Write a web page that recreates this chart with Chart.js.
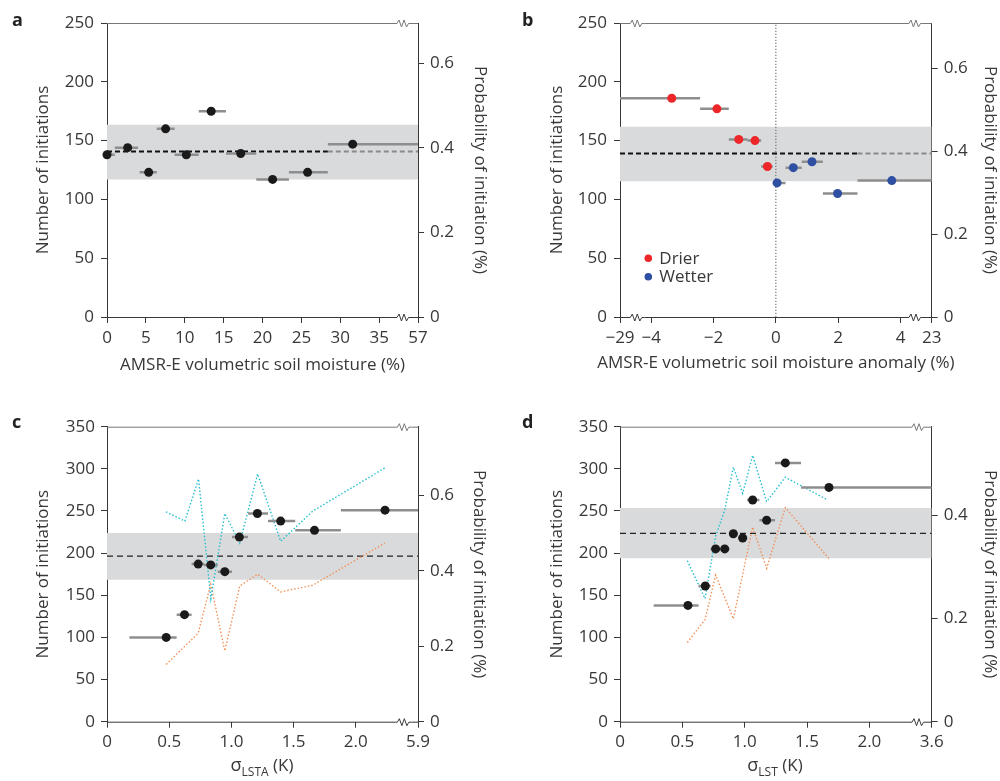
<!DOCTYPE html>
<html><head><meta charset="utf-8">
<script src="https://cdn.jsdelivr.net/npm/chart.js@4.4.0/dist/chart.umd.min.js"></script>
<style>
html,body{margin:0;padding:0;background:#fff;}
#wrap{position:relative;width:1000px;height:781px;overflow:hidden;background:#fff;}
canvas{position:absolute;}
</style></head><body>
<div id="wrap">
<canvas id="ca" width="500" height="390" style="left:0;top:0"></canvas>
<canvas id="cb" width="500" height="390" style="left:500px;top:0"></canvas>
<canvas id="cc" width="500" height="391" style="left:0;top:390px"></canvas>
<canvas id="cd" width="500" height="391" style="left:500px;top:390px"></canvas>
</div>
<script>
// ---------- Panel a : soil moisture ----------
const aX  = [0, 2.66, 5.36, 7.54, 10.2, 13.4, 17.2, 21.3, 25.8, 31.6];
const aY  = [138, 144, 123, 160, 138, 175, 139, 117, 123, 147];
const aLo = [0, 1.0, 4.2, 6.4, 8.7, 11.8, 15.3, 19.2, 23.4, 28.4];
const aHi = [1.0, 4.0, 6.4, 8.7, 11.8, 15.3, 19.2, 23.4, 28.4, 57];
const aMean = 140.7;
const aBand = [117, 163.5];
const aXTicks = [0, 5, 10, 15, 20, 25, 30, 35, 57];
const aXLabels = ['0','5','10','15','20','25','30','35','57'];

// ---------- Panel b : soil moisture anomaly ----------
const bDryX  = [-3.34, -1.89, -1.19, -0.67, -0.27];
const bDryY  = [186, 177, 151, 150, 128];
const bDryLo = [-29, -2.43, -1.51, -0.91, -0.47];
const bDryHi = [-2.43, -1.51, -0.91, -0.47, -0.10];
const bWetX  = [0.04, 0.56, 1.16, 1.98, 3.72];
const bWetY  = [114, 127, 132, 105, 116];
const bWetLo = [-0.10, 0.31, 0.83, 1.51, 2.62];
const bWetHi = [0.31, 0.83, 1.51, 2.62, 23];
const bMean = 139;
const bBand = [115.5, 161.7];
const bXTicks = [-29, -4, -2, 0, 2, 4, 23];
const bXLabels = ['\u221229','\u22124','\u22122','0','2','4','23'];

// ---------- Panel c : sigma LSTA ----------
const cX  = [0.476, 0.623, 0.733, 0.834, 0.947, 1.064, 1.209, 1.396, 1.668, 2.235];
const cY  = [100, 127, 187, 186, 178, 219, 247, 238, 227, 251];
const cLo = [0.18, 0.56, 0.68, 0.78, 0.89, 1.005, 1.134, 1.294, 1.513, 1.88];
const cHi = [0.56, 0.68, 0.78, 0.89, 1.005, 1.134, 1.294, 1.513, 1.88, 5.9];
const cCyanX = [0.474, 0.626, 0.736, 0.835, 0.947, 1.067, 1.211, 1.396, 1.655, 2.233];
const cCyanY = [249, 238, 288, 146, 247, 212, 294, 214, 250, 301];
const cOrangeX = [0.476, 0.733, 0.834, 0.947, 1.067, 1.211, 1.396, 1.655, 2.233];
const cOrangeY = [68, 105, 163, 84, 161, 175, 154, 162, 212];
const cMean = 196.5;
const cBand = [168.5, 224];
const cXTicks = [0, 0.5, 1.0, 1.5, 2.0, 5.9];
const cXLabels = ['0','0.5','1.0','1.5','2.0','5.9'];

// ---------- Panel d : sigma LST ----------
const dX  = [0.545, 0.684, 0.767, 0.840, 0.909, 0.984, 1.064, 1.176, 1.326, 1.676];
const dY  = [138, 161, 205, 205, 223, 218, 263, 239, 307, 278];
const dLo = [0.27, 0.63, 0.727, 0.80, 0.877, 0.947, 1.02, 1.118, 1.243, 1.452];
const dHi = [0.63, 0.727, 0.80, 0.877, 0.947, 1.02, 1.118, 1.243, 1.452, 3.6];
const dCyanX = [0.540, 0.682, 0.767, 0.840, 0.909, 0.984, 1.064, 1.176, 1.326, 1.666];
const dCyanY = [191, 146, 220, 251, 302, 271, 316, 261, 290, 263];
const dOrangeX = [0.540, 0.682, 0.767, 0.909, 1.064, 1.176, 1.326, 1.679];
const dOrangeY = [94, 121, 174, 122, 231, 182, 254, 193];
const dMean = 223.5;
const dBand = [194, 253.5];
const dXTicks = [0, 0.5, 1.0, 1.5, 2.0, 3.6];
const dXLabels = ['0','0.5','1.0','1.5','2.0','3.6'];

// ---------- shared axis ticks ----------
const yTicks250 = [0, 50, 100, 150, 200, 250];
const yTicks350 = [0, 50, 100, 150, 200, 250, 300, 350];
const probTicks6 = [0, 0.2, 0.4, 0.6];
const probTicks4 = [0, 0.2, 0.4];

const FONT = "'Open Sans', 'DejaVu Sans', sans-serif";
const INK = '#383838';
const BAR = '#8e8e8e';
const BANDC = '#d9dadc';
const CYAN = '#27bfd0';
const ORANGE = '#f3935a';

function makeMap(b){
  return v => {
    if (v > b.rb) return b.rb + (v - b.rb) / (b.realMax - b.rb) * (b.dispMax - b.rb);
    if (v < b.lb) return b.lb - (b.lb - v) / (b.lb - b.realMin) * (b.lb - b.dispMin);
    return v;
  };
}
function errData(f, ys, lo, hi){
  const d = [];
  for (let i = 0; i < ys.length; i++){
    d.push({x:f(lo[i]), y:ys[i]}, {x:f(hi[i]), y:ys[i]}, {x:f(hi[i]), y:null});
  }
  return d;
}
function zigLine(ctx, x0, x1, y, zigs){
  ctx.beginPath();
  ctx.moveTo(x0, y);
  zigs.forEach(z => {
    ctx.lineTo(z, y);
    ctx.lineTo(z + 2, y - 3.5);
    ctx.lineTo(z + 4.5, y + 3.5);
    ctx.lineTo(z + 7, y - 3.5);
    ctx.lineTo(z + 9.5, y + 3.5);
    ctx.lineTo(z + 11.5, y);
    ctx.lineTo(z + 14, y);
  });
  ctx.lineTo(x1, y);
  ctx.stroke();
}

function buildPanel(id, P){
  const f = makeMap(P.brk);
  const ds = [];
  P.groups.forEach(g => {
    ds.push({data: g.x.map((v,i)=>({x:f(v), y:g.y[i]})), pointRadius:4.5, pointHoverRadius:4.5,
      backgroundColor:g.color, borderColor:g.color, borderWidth:0, clip:false, order:0});
    ds.push({showLine:true, data: errData(f, g.y, g.lo, g.hi), borderColor:BAR, borderWidth:2.5,
      pointRadius:0, spanGaps:false, order:1, borderCapStyle:'butt'});
  });
  (P.lines||[]).forEach(l => ds.push({showLine:true, data:l.x.map((v,i)=>({x:f(v), y:l.y[i]})),
      borderColor:l.color, borderWidth:1.4, borderDash:[1.5,2], pointRadius:0, order:2, tension:0}));
  P.meanSegs.forEach(s => ds.push({showLine:true, data:[{x:f(s.from),y:P.mean},{x:f(s.to),y:P.mean}],
      borderColor:s.color, borderWidth:P.meanW, borderDash:P.meanDash, pointRadius:0, order:3}));
  if (P.zeroLine) ds.push({showLine:true, data:[{x:0,y:0},{x:0,y:P.yMax}], borderColor:'#777',
      borderWidth:1.2, borderDash:[1.2,1.8], pointRadius:0, order:3});
  ds.push({showLine:true, data:[{x:f(P.xTicks[0]),y:P.band[1]},{x:f(P.xTicks[P.xTicks.length-1]),y:P.band[1]}],
      borderColor:'rgba(0,0,0,0)', borderWidth:0, pointRadius:0, fill:{value:P.band[0]},
      backgroundColor:BANDC, order:4});

  const tickFont = {family:FONT, size:17};
  const titleFont = {family:FONT, size:17};
  const decor = {
    id:'decor'+id,
    afterDraw(chart){
      const {ctx, chartArea:{left,right,top,bottom}, scales:{x}} = chart;
      const zigs = P.zigs.map(z => x.getPixelForValue(z));
      ctx.save();
      ctx.lineWidth = 1;
      ctx.strokeStyle = '#777';
      zigLine(ctx, left, right, top + 0.5, zigs);
      ctx.strokeStyle = INK;
      zigLine(ctx, left, right, bottom + 0.5, zigs);
      // panel letter
      ctx.fillStyle = '#222';
      ctx.font = 'bold 18px ' + FONT;
      ctx.textBaseline = 'alphabetic';
      ctx.textAlign = 'left';
      ctx.fillText(P.letter, P.letterPos[0], P.letterPos[1]);
      if (P.legend){
        ctx.font = '17px ' + FONT;
        ctx.textBaseline = 'middle';
        P.legend.forEach(it => {
          ctx.fillStyle = it.color;
          ctx.beginPath(); ctx.arc(it.pos[0], it.pos[1], 3.8, 0, Math.PI*2); ctx.fill();
          ctx.fillStyle = INK;
          ctx.fillText(it.text, it.pos[0] + 11, it.pos[1] + 0.5);
        });
      }
      if (P.xTitle){
        ctx.font = '17px ' + FONT;
        ctx.fillStyle = INK;
        ctx.textAlign = 'center';
        ctx.textBaseline = 'middle';
        ctx.fillText(P.xTitle, (left + right) / 2, P.xTitleY);
        ctx.textAlign = 'left';
      }
      if (P.sigmaTitle){
        const [main, sub, rest] = P.sigmaTitle;
        ctx.textBaseline = 'alphabetic';
        ctx.fillStyle = INK;
        const fm = '18px ' + FONT, fs = '12px ' + FONT, fr = '17px ' + FONT;
        ctx.font = fm; const w1 = ctx.measureText(main).width;
        ctx.font = fs; const w2 = ctx.measureText(sub).width;
        ctx.font = fr; const w3 = ctx.measureText(rest).width;
        let cx = P.sigmaPos[0] - (w1 + w2 + w3) / 2;
        const by = P.sigmaPos[1];
        ctx.font = fm; ctx.fillText(main, cx, by); cx += w1;
        ctx.font = fs; ctx.fillText(sub, cx, by + 5); cx += w2;
        ctx.font = fr; ctx.fillText(rest, cx, by);
      }
      ctx.restore();
    }
  };

  return new Chart(document.getElementById(id), {
    type:'scatter',
    data:{datasets:ds},
    options:{
      responsive:false, animation:false, events:[], devicePixelRatio:1,
      layout:{padding:{top:P.top, left:0, right:0, bottom:0}},
      plugins:{legend:{display:false}, tooltip:{enabled:false}},
      scales:{
        x:{type:'linear', position:'bottom', min:f(P.xTicks[0]), max:f(P.xTicks[P.xTicks.length-1]),
          afterBuildTicks:s=>{ s.ticks = P.xTicks.map(v=>({value:f(v)})); },
          afterFit:s=>{ s.height = P.xH; },
          ticks:{autoSkip:false, maxRotation:0, minRotation:0, padding:P.xPad, font:tickFont, color:INK,
            callback:(v,i)=>P.xLabels[i]},
          grid:{display:true, drawOnChartArea:false, drawTicks:true, tickLength:6, color:INK, lineWidth:1},
          border:{display:false},
          title:{display:false}
        },
        y:{type:'linear', position:'left', min:0, max:P.yMax,
          afterBuildTicks:s=>{ s.ticks = P.yTicks.map(v=>({value:v})); },
          afterFit:s=>{ s.width = P.yW; },
          ticks:{padding:P.yPad, font:tickFont, color:INK, callback:v=>String(v)},
          grid:{display:true, drawOnChartArea:false, drawTicks:true, tickLength:6, color:INK, lineWidth:1},
          border:{display:true, color:INK, width:1},
          title:{display:true, text:'Number of initiations', font:titleFont, color:INK,
            padding:{top:P.yTitlePad, bottom:0}}
        },
        y1:{type:'linear', position:'right', min:0, max:P.y1Max, display:true,
          afterBuildTicks:s=>{ s.ticks = P.y1Ticks.map(v=>({value:v})); },
          afterFit:s=>{ s.width = P.y1W; },
          ticks:{padding:6, font:tickFont, color:INK, callback:v=> v===0 ? '0' : v.toFixed(1)},
          grid:{display:true, drawOnChartArea:false, drawTicks:true, tickLength:6, color:INK, lineWidth:1},
          border:{display:true, color:INK, width:1},
          title:{display:true, text:'Probability of initiation (%)', font:titleFont, color:INK,
            padding:{top:P.y1TitlePad, bottom:0}}
        }
      }
    },
    plugins:[decor]
  });
}

// Panel a
buildPanel('ca', {
  brk:{realMin:0, realMax:57, dispMin:0, dispMax:40, lb:0, rb:37.3},
  zigs:[37.3],
  groups:[{x:aX, y:aY, lo:aLo, hi:aHi, color:'#1a1a1a'}],
  meanSegs:[{from:0, to:aLo[aLo.length-1], color:'#111'}, {from:aLo[aLo.length-1], to:57, color:'#8a8a8a'}],
  mean:aMean, meanW:2, meanDash:[5,3], band:aBand,
  xTicks:aXTicks, xLabels:aXLabels, yTicks:yTicks250, yMax:250, y1Ticks:probTicks6, y1Max:0.695,
  top:23, yW:107, y1W:82, xH:73, xPad:5, yPad:7,
  xTitle:'AMSR-E volumetric soil moisture (%)', xTitleY:365, yTitlePad:33.1, y1TitlePad:9.8,
  letter:'a', letterPos:[12, 26]
});

// Panel b
buildPanel('cb', {
  brk:{realMin:-29, realMax:23, dispMin:-5, dispMax:5, lb:-4.67, rb:4.27},
  zigs:[-4.67, 4.27],
  groups:[{x:bDryX, y:bDryY, lo:bDryLo, hi:bDryHi, color:'#ec2629'},
          {x:bWetX, y:bWetY, lo:bWetLo, hi:bWetHi, color:'#2f4fa2'}],
  meanSegs:[{from:-29, to:bWetLo[bWetLo.length-1], color:'#111'}, {from:bWetLo[bWetLo.length-1], to:23, color:'#8a8a8a'}],
  mean:bMean, meanW:2, meanDash:[5,3], band:bBand, zeroLine:true,
  xTicks:bXTicks, xLabels:bXLabels, yTicks:yTicks250, yMax:250, y1Ticks:probTicks6, y1Max:0.71,
  top:23, yW:120, y1W:68.3, xH:73, xPad:5, yPad:7,
  xTitle:'AMSR-E volumetric soil moisture anomaly (%)', xTitleY:363.5, yTitlePad:46.5, y1TitlePad:0,
  letter:'b', letterPos:[22, 26],
  legend:[{text:'Drier', color:'#ec2629', pos:[148.3, 258.3]}, {text:'Wetter', color:'#2f4fa2', pos:[148.3, 276.7]}]
});

// Panel c
buildPanel('cc', {
  brk:{realMin:0, realMax:5.9, dispMin:0, dispMax:2.5, lb:0, rb:2.334},
  zigs:[2.334],
  groups:[{x:cX, y:cY, lo:cLo, hi:cHi, color:'#1a1a1a'}],
  lines:[{x:cCyanX, y:cCyanY, color:CYAN}, {x:cOrangeX, y:cOrangeY, color:ORANGE}],
  meanSegs:[{from:0, to:5.9, color:'#222'}],
  mean:cMean, meanW:1.3, meanDash:[6,4], band:cBand,
  xTicks:cXTicks, xLabels:cXLabels, yTicks:yTicks350, yMax:350, y1Ticks:probTicks6, y1Max:0.783,
  top:36.7, yW:107, y1W:82, xH:59.3, xPad:4, yPad:6,
  xTitle:null, yTitlePad:33.1, y1TitlePad:11.3,
  letter:'c', letterPos:[12, 38],
  sigmaTitle:['\u03C3','LSTA',' (K)'], sigmaPos:[262, 381]
});

// Panel d
buildPanel('cd', {
  brk:{realMin:0, realMax:3.6, dispMin:0, dispMax:2.5, lb:0, rb:2.342},
  zigs:[2.342],
  groups:[{x:dX, y:dY, lo:dLo, hi:dHi, color:'#1a1a1a'}],
  lines:[{x:dCyanX, y:dCyanY, color:CYAN}, {x:dOrangeX, y:dOrangeY, color:ORANGE}],
  meanSegs:[{from:0, to:3.6, color:'#222'}],
  mean:dMean, meanW:1.3, meanDash:[6,4], band:dBand,
  xTicks:dXTicks, xLabels:dXLabels, yTicks:yTicks350, yMax:350, y1Ticks:probTicks4, y1Max:0.571,
  top:36.7, yW:120, y1W:68.3, xH:59.3, xPad:4, yPad:6,
  xTitle:null, yTitlePad:46.5, y1TitlePad:0,
  letter:'d', letterPos:[22, 38],
  sigmaTitle:['\u03C3','LST',' (K)'], sigmaPos:[275, 381]
});
</script>
</body></html>
